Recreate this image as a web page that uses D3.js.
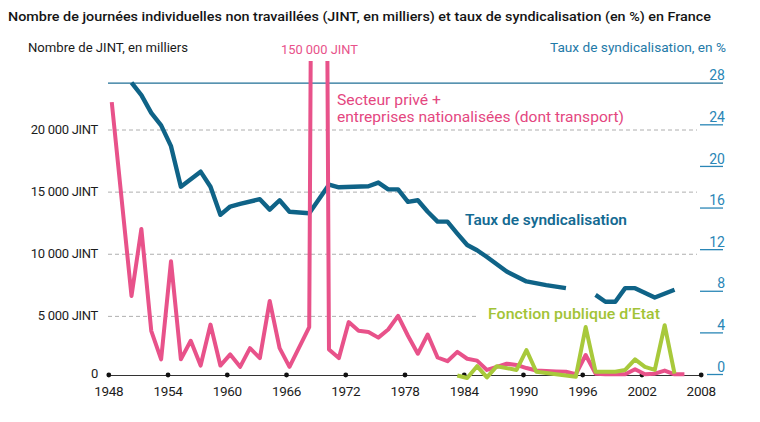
<!DOCTYPE html>
<html>
<head>
<meta charset="utf-8">
<script src="https://cdn.jsdelivr.net/npm/d3@7"></script>
<style>
  body { margin: 0; background: #fff; }
  svg { display: block; font-family: Roboto, "Open Sans", sans-serif; }
</style>
</head>
<body>
<svg id="chart" width="760" height="422"></svg>
<script>
// axis ticks
var xTicks = [1948, 1954, 1960, 1966, 1972, 1978, 1984, 1990, 1996, 2002, 2008];
var leftTicks = [0, 5000, 10000, 15000, 20000];
var rightTicks = [0, 4, 8, 12, 16, 20, 24, 28];

// secteur privé + entreprises nationalisées, JINT en milliers
var privYears = [1947, 1949, 1950, 1951, 1952, 1953, 1954, 1955, 1956, 1957, 1958, 1959, 1960, 1961, 1962, 1963, 1964, 1965, 1967, 1968,
  1969, 1970, 1971, 1972, 1973, 1974, 1975, 1976, 1977, 1978, 1979, 1980, 1981, 1982, 1983, 1984, 1985, 1986, 1987, 1988,
  1989, 1990, 1991, 1992, 1993, 1994, 1995, 1996, 1997, 1998, 1999, 2000, 2001, 2002, 2003, 2004, 2005];
var privJint = [22200, 6600, 12000, 3800, 1500, 9400, 1500, 3000, 1000, 4300, 1000, 1900, 900, 2400, 1600, 6200, 2400, 900, 4100, 150000,
  2300, 1600, 4500, 3800, 3700, 3250, 3900, 5000, 3400, 1950, 3500, 1650, 1350, 2100, 1550, 1400, 650, 900, 1150, 1050,
  800, 600, 560, 530, 500, 300, 1850, 350, 300, 300, 300, 700, 300, 350, 600, 300, 300];

// fonction publique d'Etat, JINT en milliers
var etatYears = [1982, 1983, 1984, 1985, 1986, 1988, 1989, 1990, 1991, 1992, 1993, 1994, 1995, 1996, 1997, 1998, 1999, 2000, 2001, 2002, 2003, 2004];
var etatJint = [200, 0, 950, 50, 950, 650, 2250, 500, 400, 300, 200, 100, 4100, 500, 500, 500, 650, 1500, 900, 650, 4250, 350];

// taux de syndicalisation, en % (null = pas de donnée)
var syndYears = [1949, 1950, 1951, 1952, 1953, 1954, 1956, 1957, 1958, 1959, 1960, 1962, 1963, 1964, 1965, 1967, 1969, 1970, 1973, 1974,
  1975, 1976, 1977, 1978, 1979, 1980, 1981, 1982, 1983, 1984, 1985, 1987, 1989, 1991, 1993, 1994, 1996, 1997, 1998, 1999, 2000, 2002, 2004];
var syndRate = [28, 26.8, 25.1, 23.9, 21.9, 18, 19.45, 18, 15.3, 16.1, 16.35, 16.8, 15.8, 16.7, 15.6, 15.45, 18.2, 17.95, 18.05, 18.4,
  17.75, 17.75, 16.55, 16.7, 15.6, 14.65, 14.65, 13.5, 12.4, 11.9, 11.25, 9.85, 8.9, 8.55, 8.25, null, 7.6, 6.95, 6.95, 8.25, 8.25, 7.35, 8.1];

// the source graphic draws each year a bit right of its own tick
var yearShift = 1.35;

var pink = '#e8528a', blue = '#0f6387', blueText = '#2a86b6', green = '#a8c93b';

var svg = d3.select('#chart');

var x = d3.scaleLinear().domain([1948, 2008]).range([108.3, 700.7]);
var yL = d3.scaleLinear().domain([0, 20000]).range([378, 129.5]);
var yR = d3.scaleLinear().domain([0, 28]).range([374, 82.7]);

var frNum = d3.formatLocale({decimal: ',', thousands: ' ', grouping: [3], currency: ['', ' €']}).format(',d');

function zip(years, vals) {
  return years.map(function(yr, i) { return {year: yr, v: vals[i]}; });
}

// subtitle
svg.append('text')
    .attr('x', 8).attr('y', 21)
    .attr('textLength', 703).attr('lengthAdjust', 'spacingAndGlyphs')
    .style('font-size', '13px').style('font-weight', 500).style('fill', '#151515')
    .text('Nombre de journées individuelles non travaillées (JINT, en milliers) et taux de syndicalisation (en %) en France');

// axis titles
svg.append('text')
    .attr('x', 28).attr('y', 52)
    .attr('textLength', 160).attr('lengthAdjust', 'spacingAndGlyphs')
    .style('font-size', '12.5px').style('fill', '#1a1a1a')
    .text('Nombre de JINT, en milliers');
svg.append('text')
    .attr('x', 281).attr('y', 54)
    .attr('textLength', 77).attr('lengthAdjust', 'spacingAndGlyphs')
    .style('font-size', '13px').style('fill', pink)
    .text('150 000 JINT');
svg.append('text')
    .attr('x', 550).attr('y', 52)
    .attr('textLength', 176).attr('lengthAdjust', 'spacingAndGlyphs')
    .style('font-size', '13px').style('fill', '#1f7aa8')
    .text('Taux de syndicalisation, en %');

// dashed grid (left scale); the 5 000 line stops short of the green label
var grid = svg.append('g')
    .attr('transform', 'translate(108,0)')
    .call(d3.axisRight(yL).tickValues(leftTicks.filter(function(d) { return d > 0; }))
      .tickSize(589).tickFormat(''));
grid.select('.domain').remove();
grid.selectAll('line').attr('stroke', '#9a9a9a').attr('stroke-width', 0.8).attr('stroke-dasharray', '4,3');
grid.selectAll('.tick').filter(function(d) { return d === 5000; }).select('line').attr('x2', 370);

// left axis labels
var gl = svg.append('g')
    .attr('transform', 'translate(98,0)')
    .call(d3.axisLeft(yL).tickValues(leftTicks).tickSize(0).tickPadding(0)
      .tickFormat(function(d) { return d === 0 ? '0' : frNum(d) + ' JINT'; }));
gl.select('.domain').remove();
gl.selectAll('text').style('font-size', '13px').style('fill', '#1c1c1c').style('font-family', 'Roboto, sans-serif')
    .attr('dy', '0.3em').attr('letter-spacing', '-0.3');
gl.selectAll('.tick').filter(function(d) { return d === 0; }).select('text').attr('y', -4);

// right axis
var gr = svg.append('g')
    .attr('transform', 'translate(723,0)')
    .call(d3.axisLeft(yR).tickValues(rightTicks).tickSize(23).tickFormat(d3.format('d')));
gr.select('.domain').remove();
gr.selectAll('line').attr('stroke', '#2a86b6').attr('stroke-width', 1.3);
gr.selectAll('.tick').filter(function(d) { return d === 28; }).select('line').attr('x2', 108 - 723).attr('stroke', '#1f6f96');
gr.selectAll('.tick').filter(function(d) { return d === 0; }).select('line').attr('x2', -16);
gr.selectAll('text')
    .attr('x', 2).attr('dy', '-0.2em')
    .style('text-anchor', 'end').style('font-size', '14px').style('fill', blueText)
    .style('font-family', 'Roboto, sans-serif');

// x axis
var gx = svg.append('g')
    .attr('transform', 'translate(0,375)')
    .call(d3.axisBottom(x).tickValues(xTicks).tickSize(0).tickSizeOuter(0).tickPadding(11).tickFormat(d3.format('d')));
gx.select('.domain').attr('stroke', '#333').attr('stroke-width', 1.1);
gx.selectAll('text').style('font-size', '13.5px').style('fill', '#1c1c1c').style('font-family', 'Roboto, sans-serif')
    .attr('letter-spacing', '-0.3');
gx.selectAll('.tick').append('circle').attr('r', 2.4).attr('fill', '#111');

// clip for the 1968 spike
svg.append('clipPath').attr('id', 'plotclip')
  .append('rect').attr('x', 0).attr('y', 61).attr('width', 760).attr('height', 361);

var lineL = d3.line()
    .x(function(d) { return x(d.year + yearShift); })
    .y(function(d) { return yL(d.v); });
var lineR = d3.line()
    .defined(function(d) { return d.v != null; })
    .x(function(d) { return x(d.year + yearShift); })
    .y(function(d) { return yR(d.v); });

svg.append('path')
    .datum(zip(syndYears, syndRate))
    .attr('d', lineR)
    .attr('fill', 'none').attr('stroke', blue).attr('stroke-width', 4.4)
    .attr('stroke-linejoin', 'round');

svg.append('path')
    .datum(zip(privYears, privJint))
    .attr('d', lineL)
    .attr('clip-path', 'url(#plotclip)')
    .attr('fill', 'none').attr('stroke', pink).attr('stroke-width', 4)
    .attr('stroke-linejoin', 'round');

svg.append('path')
    .datum(zip(etatYears, etatJint))
    .attr('d', lineL)
    .attr('fill', 'none').attr('stroke', green).attr('stroke-width', 4)
    .attr('stroke-linejoin', 'round');

// series labels
svg.append('text')
    .attr('x', 337).attr('y', 105)
    .attr('textLength', 104).attr('lengthAdjust', 'spacingAndGlyphs')
    .style('font-size', '13.8px').style('fill', '#e4477f')
    .text('Secteur privé +');
svg.append('text')
    .attr('x', 337).attr('y', 122)
    .attr('textLength', 287).attr('lengthAdjust', 'spacingAndGlyphs')
    .style('font-size', '13.8px').style('fill', '#e4477f')
    .text('entreprises nationalisées (dont transport)');
svg.append('text')
    .attr('x', 465).attr('y', 225)
    .attr('textLength', 162).attr('lengthAdjust', 'spacingAndGlyphs')
    .style('font-size', '15px').style('font-weight', 600).style('fill', '#146a92')
    .text('Taux de syndicalisation');
svg.append('text')
    .attr('x', 488).attr('y', 319)
    .attr('textLength', 172).attr('lengthAdjust', 'spacingAndGlyphs')
    .style('font-size', '15px').style('font-weight', 500).style('fill', '#a2c336')
    .text('Fonction publique d\u2019Etat');
</script>
</body>
</html>
